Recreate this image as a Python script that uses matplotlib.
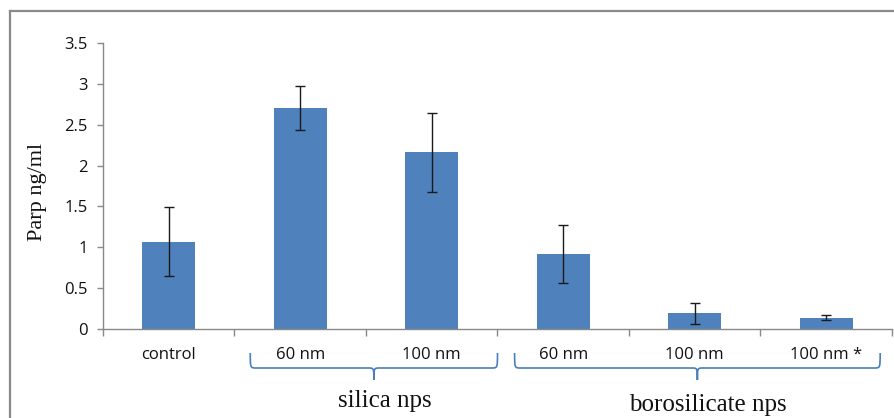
import matplotlib
matplotlib.use("Agg")
import matplotlib.pyplot as plt
from matplotlib.path import Path
from matplotlib.patches import PathPatch
from matplotlib.lines import Line2D
import matplotlib.transforms as mtransforms
import numpy as np

# data
categories = ["control", "60 nm", "100 nm", "60 nm", "100 nm", "100 nm *"]
parp_values = [1.07, 2.70, 2.16, 0.92, 0.19, 0.14]
parp_errors = [0.425, 0.27, 0.48, 0.357, 0.13, 0.027]
y_ticks = [0, 0.5, 1, 1.5, 2, 2.5, 3, 3.5]
y_tick_labels = ["0", "0.5", "1", "1.5", "2", "2.5", "3", "3.5"]
groups = ["silica nps", "borosilicate nps"]
group_spans = [(0.62, 2.5), (2.63, 5.41)]

W, H = 895, 418
fig = plt.figure(figsize=(W / 100, H / 100), dpi=100)
fig.patch.set_facecolor("white")

ax = fig.add_axes([103 / W, 1 - 329 / H, 789 / W, 286 / H])
x = np.arange(len(categories))
ax.bar(x, parp_values, width=0.4, color="#4F81BD", zorder=2)
ax.errorbar(x, parp_values, yerr=parp_errors, fmt="none", ecolor="#1a1a1a",
            elinewidth=1.0, capsize=3.6, capthick=1.0, zorder=3)

ax.set_xlim(-0.5, len(categories) - 0.5)
ax.set_ylim(0, 3.5)

axis_grey = "#898989"
for side in ("top", "right"):
    ax.spines[side].set_visible(False)
for side in ("left", "bottom"):
    ax.spines[side].set_color(axis_grey)
    ax.spines[side].set_linewidth(1.0)

tick_font = dict(fontfamily="Open Sans", fontsize=12, color="#111111")
ax.set_yticks(y_ticks)
ax.set_yticklabels(y_tick_labels, **tick_font)
ax.tick_params(axis="y", length=4, width=1.0, color=axis_grey, pad=7)

ax.set_xticks(x)
ax.set_xticklabels(categories, **tick_font)
ax.set_xticks(np.arange(len(categories) + 1) - 0.5, minor=True)
ax.tick_params(axis="x", which="major", length=0, pad=13)
ax.tick_params(axis="x", which="minor", length=5, width=1.0, color=axis_grey)

# outer frame (left and top edges)
frame_kw = dict(color="#8a8a8a", linewidth=1.6, transform=fig.transFigure)
fig.add_artist(Line2D([10.5 / W, 10.5 / W], [0, 1 - 10.5 / H], **frame_kw))
fig.add_artist(Line2D([10.5 / W, 1], [1 - 10.5 / H, 1 - 10.5 / H], **frame_kw))

# y-axis title
fig.text(37.5 / W, 1 - 192 / H, "Parp ng/ml", rotation=90, ha="center", va="center",
         fontfamily="Liberation Serif", fontsize=16, color="#111111")

# group braces below the category labels
trans = mtransforms.blended_transform_factory(ax.transData, ax.transAxes)
px = 1 / 286  # one pixel in axes-y units
y_end = -(353 - 329) * px
y_mid = -(368 - 329) * px
y_tip = -(380 - 329) * px
dx = 0.045
baselines = [407, 411]
for name, (a, b), base in zip(groups, group_spans, baselines):
    m = (a + b) / 2
    verts = [
        (a, y_end), (a, y_mid), (a, y_mid), (a + dx, y_mid),
        (m - dx, y_mid),
        (m, y_mid), (m, y_mid), (m, y_tip),
        (m, y_mid), (m, y_mid), (m + dx, y_mid),
        (b - dx, y_mid),
        (b, y_mid), (b, y_mid), (b, y_end),
    ]
    codes = [Path.MOVETO, Path.CURVE4, Path.CURVE4, Path.CURVE4,
             Path.LINETO,
             Path.CURVE4, Path.CURVE4, Path.CURVE4,
             Path.CURVE4, Path.CURVE4, Path.CURVE4,
             Path.LINETO,
             Path.CURVE4, Path.CURVE4, Path.CURVE4]
    ax.add_patch(PathPatch(Path(verts, codes), transform=trans, fill=False,
                           edgecolor="#4A7EBB", linewidth=1.2, clip_on=False))
    ax.text(m + 0.08, -(base - 329) * px, name, transform=trans, ha="center",
            va="baseline", fontfamily="Liberation Serif", fontsize=18,
            color="#111111", clip_on=False)

fig.savefig("out.png", dpi=100, facecolor="white")
